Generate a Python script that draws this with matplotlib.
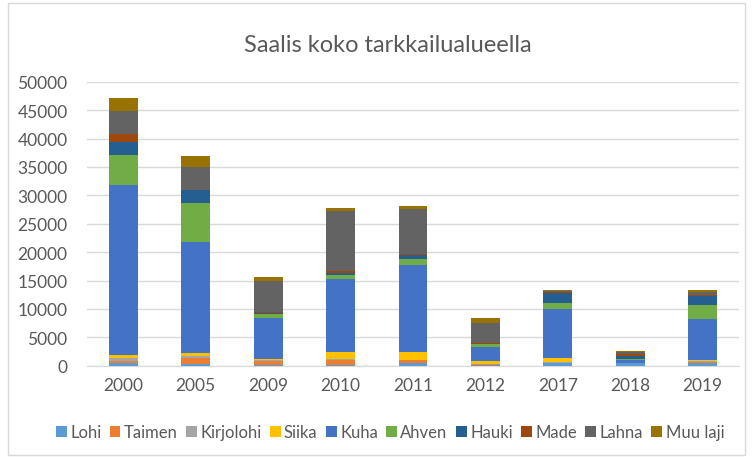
import matplotlib
matplotlib.use('Agg')
import matplotlib.pyplot as plt
from matplotlib.patches import Rectangle

# Vuodet ja lajit
vuodet = ['2000', '2005', '2009', '2010', '2011', '2012', '2017', '2018', '2019']
lajit = ['Lohi', 'Taimen', 'Kirjolohi', 'Siika', 'Kuha', 'Ahven', 'Hauki', 'Made', 'Lahna', 'Muu laji']

# Saalis lajeittain (luettu kuvasta)
lohi = [400, 300, 150, 200, 400, 150, 450, 450, 450]
taimen = [470, 1000, 700, 800, 600, 200, 100, 30, 250]
kirjolohi = [410, 450, 100, 100, 50, 20, 50, 0, 50]
siika = [590, 400, 300, 1400, 1450, 400, 750, 50, 300]
kuha = [30000, 19700, 7200, 12700, 15200, 2600, 8650, 400, 7100]
ahven = [5300, 6800, 600, 700, 1000, 400, 1100, 250, 2600]
hauki = [2200, 2200, 300, 450, 800, 100, 1700, 600, 1600]
made = [1500, 100, 50, 250, 200, 100, 200, 350, 150]
lahna = [4000, 4100, 5600, 10600, 7900, 3500, 200, 250, 550]
muu_laji = [2200, 1800, 650, 600, 500, 900, 200, 250, 350]

sarjat = [lohi, taimen, kirjolohi, siika, kuha, ahven, hauki, made, lahna, muu_laji]
varit = ['#5B9BD5', '#ED7D31', '#A5A5A5', '#FFC000', '#4472C4',
         '#70AD47', '#255E91', '#9E480E', '#636363', '#997300']

plt.rcParams['font.family'] = ['Lato', 'DejaVu Sans']

fig = plt.figure(figsize=(7.53, 4.6), dpi=100)
ax = fig.add_axes([87 / 753, 1 - 366.7 / 460, (739 - 87) / 753, 284 / 460])

x = list(range(len(vuodet)))
pohja = [0] * len(vuodet)
for nimi, arvot, vari in zip(lajit, sarjat, varit):
    ax.bar(x, arvot, width=0.4, bottom=pohja, color=vari, label=nimi,
           edgecolor='none', zorder=3)
    pohja = [p + a for p, a in zip(pohja, arvot)]

ax.set_xlim(-0.5, len(vuodet) - 0.5)
ax.set_ylim(0, 50000)
ax.set_yticks(range(0, 50001, 5000))
ax.set_xticks(x)
ax.set_xticklabels(vuodet)
ax.grid(axis='y', color='#D9D9D9', linewidth=1, zorder=0)
for s in ['top', 'right', 'left']:
    ax.spines[s].set_visible(False)
ax.spines['bottom'].set_color('#D9D9D9')
ax.tick_params(axis='both', length=0, labelsize=12.5, colors='#595959')
ax.tick_params(axis='y', pad=14)
ax.tick_params(axis='x', pad=8)

fig.text(388 / 753, 1 - 45 / 460, 'Saalis koko tarkkailualueella', ha='center', va='center',
         fontsize=17, color='#595959', fontweight='normal')

fig.legend(loc='center', bbox_to_anchor=(390 / 753, 1 - 433 / 460), ncol=10,
           frameon=False, fontsize=12, handlelength=0.65, handleheight=0.65,
           handletextpad=0.2, columnspacing=0.5, labelcolor='#595959')

fig.patches.append(Rectangle((8 / 753, 4 / 460), 737 / 753, 452 / 460, transform=fig.transFigure,
                             fill=False, edgecolor='#D9D9D9', linewidth=1))

fig.savefig('out.png', dpi=100)
